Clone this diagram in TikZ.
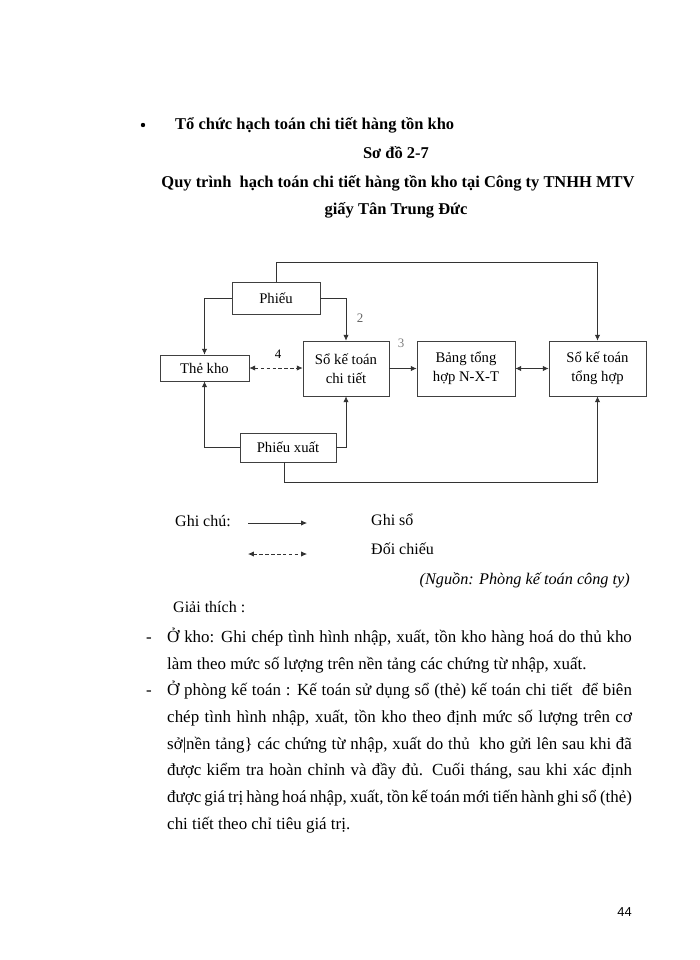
\documentclass[tikz,border=0pt]{standalone}
\usepackage{fontspec}
\setmainfont{Liberation Serif}
\setsansfont{Liberation Sans}
\usetikzlibrary{arrows.meta}

\tikzset{
  box/.style={draw=black!75, line width=0.6pt, inner sep=1pt, align=center,
    font=\fontsize{12.5}{16}\selectfont},
  flow/.style={draw=black!80, line width=0.6pt, -{Latex[length=5pt,width=4.5pt]}},
  twoway/.style={flow, {Latex[length=5pt,width=4.5pt]}-{Latex[length=5pt,width=4.5pt]}},
  check/.style={twoway, dash pattern=on 3pt off 2pt},
  num/.style={inner sep=0pt, font=\fontsize{11}{13}\selectfont},
  txt/.style={anchor=base west, inner sep=0pt},
  title/.style={anchor=base, inner sep=0pt, font=\fontsize{14}{17}\selectfont\bfseries},
  body/.style={txt, font=\fontsize{14.4}{18}\selectfont},
}

\begin{document}
\begin{tikzpicture}[x=0.85pt, y=-0.85pt, font=\fontsize{13.6}{16}\selectfont]
\useasboundingbox (0,0) rectangle (700,960);
\fill[white] (0,0) rectangle (700,960);

% heading
\fill (143,125) circle (2.2);
\node[txt, font=\fontsize{14}{17}\selectfont\bfseries] (muc) at (175,129) {Tổ chức hạch toán chi tiết hàng tồn kho};
\node[title] (sodo) at (396,158) {Sơ đồ 2-7};
\node[title] (tieude1) at (398,187) {Quy trình \ hạch toán chi tiết hàng tồn kho tại Công ty TNHH MTV};
\node[title] (tieude2) at (396,214) {giấy Tân Trung Đức};

% boxes
\foreach \name/\x/\y/\w/\h/\txt in {
  phieunhap/276/298/88/32/{Phiếu},
  thekho/204.5/368/89/26/{Thẻ kho},
  sochitiet/346/368.5/86/55/{Sổ kế toán\\chi tiết},
  bangth/466/368.5/98/55/{Bảng tổng\\hợp N-X-T},
  sotonghop/597.5/368.5/97/55/{Sổ kế toán\\tổng hợp},
  phieuxuat/288/447.5/96/29/{Phiếu xuất}}{
\node[box, minimum width=\w*0.85pt, minimum height=\h*0.85pt] (\name) at (\x,\y) {\txt};
}

% connectors
\coordinate (toprail) at (276,262);
\coordinate (botrail) at (284,482);
\draw[flow] (phieunhap.west) -| (thekho.north);
\draw[flow] (phieunhap.east) -| (sochitiet.north);
\draw[flow] (phieunhap.north) -- (toprail) -| (sotonghop.north);
\draw[check] (thekho.east) -- (thekho.east -| sochitiet.west);
\draw[flow] (sochitiet.east) -- (sochitiet.east -| bangth.west);
\draw[twoway] (bangth.east) -- (bangth.east -| sotonghop.west);
\draw[flow] (phieuxuat.west) -| (thekho.south);
\draw[flow] (phieuxuat.east) -| (sochitiet.south);
\draw[flow] (phieuxuat.south -| botrail) -- (botrail) -| (sotonghop.south);

\node[num, text=black!60] (n2) at (360,318) {2};
\node[num, text=black!50] (n3) at (401,343) {3};
\node[num] (n4) at (278,354) {4};

% legend
\node[txt] (ghichu) at (175,526) {Ghi chú:};
\coordinate (lg1a) at (248,523);
\coordinate (lg1b) at (307,523);
\draw[flow] (lg1a) -- (lg1b);
\node[txt] (ghiso) at (371,525) {Ghi sổ};
\coordinate (lg2a) at (248,554);
\coordinate (lg2b) at (307,554);
\draw[check] (lg2a) -- (lg2b);
\node[txt] (doichieu) at (371,554) {Đối chiếu};
\node[anchor=base east, inner sep=0pt, font=\fontsize{13.8}{16}\selectfont\itshape] (nguon) at (630,584) {(Nguồn: Phòng kế toán công ty)};
\node[txt] (giaithich) at (173,612) {Giải thích :};

% explanation
\node[body, anchor=base] (g1) at (149,642) {-};
\node[body, anchor=base] (g2) at (149,695) {-};
\foreach \y/\txt in {
  642/{Ở kho: Ghi chép tình hình nhập, xuất, tồn kho hàng hoá do thủ kho},
  695/{Ở phòng kế toán : Kế toán sử dụng sổ (thẻ) kế toán chi tiết \ để biên},
  722/{chép tình hình nhập, xuất, tồn kho theo định mức số lượng trên cơ},
  749/{sở|nền tảng\} các chứng từ nhập, xuất do thủ \ kho gửi lên sau khi đã},
  775/{được kiểm tra hoàn chỉnh và đầy đủ. Cuối tháng, sau khi xác định},
  802/{được giá trị hàng hoá nhập, xuất, tồn kế toán mới tiến hành ghi sổ (thẻ)}}{
\node[body] at (167,\y) {\makebox[395pt][s]{\txt}};
}
\node[body] (l2) at (167,669) {làm theo mức số lượng trên nền tảng các chứng từ nhập, xuất.};
\node[body] (l8) at (167,829) {chi tiết theo chỉ tiêu giá trị.};

\node[anchor=base east, inner sep=0pt, font=\sffamily\fontsize{11}{13}\selectfont] (trang) at (632,916) {44};
\end{tikzpicture}
\end{document}
